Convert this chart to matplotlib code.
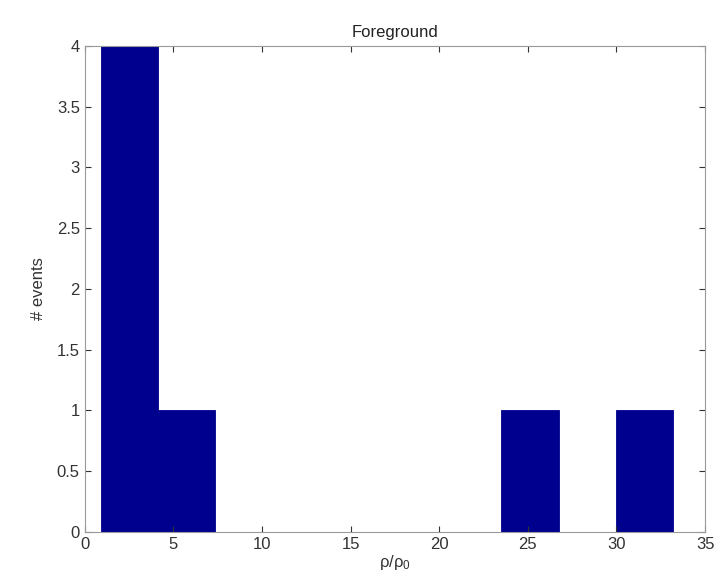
import numpy as np
import matplotlib
matplotlib.use('Agg')
import matplotlib.pyplot as plt

# rho/rho_0 of the foreground events
rho_ratio = [0.9, 1.8, 2.7, 3.6, 5.5, 25.1, 33.2]
n_bins = 10
x_ticks = [0, 5, 10, 15, 20, 25, 30, 35]
y_ticks = [0, 0.5, 1, 1.5, 2, 2.5, 3, 3.5, 4]

plt.rcParams['font.family'] = ['Liberation Sans', 'DejaVu Sans']
fig = plt.figure(figsize=(7.18, 5.87), dpi=100)
ax = fig.add_axes([0.118, 0.094, 0.864, 0.828])

ax.hist(rho_ratio, bins=n_bins, color='#00008F', edgecolor='#00008F', linewidth=0.6)

ax.set_xlim(0, 35)
ax.set_ylim(0, 4)
ax.set_xticks(x_ticks)
ax.set_yticks(y_ticks)
ax.set_yticklabels(['%g' % v for v in y_ticks])
ax.tick_params(direction='in', top=True, right=True, labelsize=12, colors='#333333', length=4)
for s in ax.spines.values():
    s.set_color('#999999')
    s.set_linewidth(0.8)

ax.set_title('Foreground', fontsize=12, color='#222222')
ax.set_xlabel(r'$\mathregular{\rho/\rho_0}$', fontsize=12, color='#333333', labelpad=1)
ax.set_ylabel('# events', fontsize=12, color='#333333', labelpad=8)

plt.savefig('out.png', dpi=100)
